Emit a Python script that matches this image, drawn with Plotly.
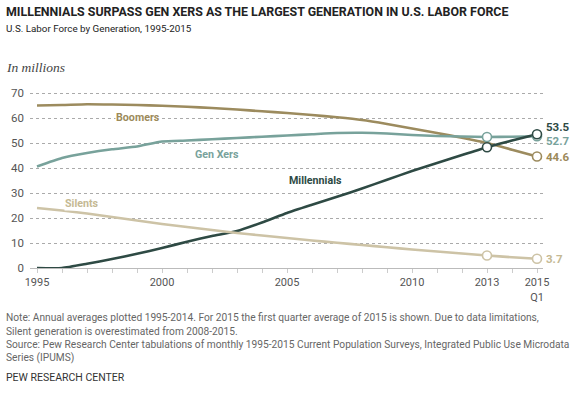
import plotly.graph_objects as go

years = list(range(1995, 2016))
boomers = [65.0, 65.2, 65.5, 65.4, 65.2, 64.9, 64.5, 64.0, 63.4, 62.7, 62.0, 61.2, 60.3, 59.2, 57.6, 55.8, 54.0, 52.1, 50.0, 47.3, 44.6]
gen_xers = [40.6, 44.0, 46.0, 47.5, 48.6, 50.6, 51.0, 51.5, 52.0, 52.5, 53.0, 53.5, 54.0, 54.1, 53.8, 53.2, 52.8, 52.6, 52.4, 52.5, 52.7]
millennials = [0.0, 0.0, 1.7, 3.6, 5.7, 8.0, 10.5, 12.8, 14.8, 18.2, 22.0, 25.3, 28.5, 31.8, 35.3, 38.8, 42.0, 45.2, 48.3, 51.0, 53.5]
silents = [24.0, 23.0, 21.8, 20.4, 19.0, 17.6, 16.4, 15.2, 14.0, 13.0, 12.0, 11.0, 10.1, 9.2, 8.3, 7.4, 6.6, 5.8, 5.0, 4.3, 3.7]

series_names = ["Boomers", "Gen Xers", "Millennials", "Silents"]
series_values = [boomers, gen_xers, millennials, silents]
colors = ["#9c8b5e", "#78a29b", "#2e4a44", "#cdc3a6"]
label_colors = ["#9c8a5a", "#78a29b", "#2e4a44", "#c5b993"]
marker_years = [[2015], [2013, 2015], [2013, 2015], [2013, 2015]]
end_labels = ["44.6", "52.7", "53.5", "3.7"]

xtick_vals = years
xtick_text = ["1995", "", "", "", "", "2000", "", "", "", "", "2005", "", "", "", "", "2010", "", "", "2013", "", "2015<br>Q1"]
ytick_vals = [0, 10, 20, 30, 40, 50, 60, 70]

fig = go.Figure()
for name, vals, col in zip(series_names, series_values, colors):
    fig.add_trace(go.Scatter(x=years, y=vals, mode="lines", name=name,
                             line=dict(color=col, width=2.6, shape="spline", smoothing=0.5),
                             hoverinfo="skip", showlegend=False))
for name, vals, col, myrs in zip(series_names, series_values, colors, marker_years):
    fig.add_trace(go.Scatter(x=myrs, y=[vals[years.index(yy)] for yy in myrs], mode="markers",
                             marker=dict(size=9, color="white", line=dict(color=col, width=1.6)),
                             cliponaxis=False, showlegend=False, hoverinfo="skip"))

# series labels
lab_font = "Roboto"
label_pos = [(1999.04, 60.3), (2002.19, 45.3), (2006.12, 35.0), (1996.8, 25.7)]
for name, (lx, ly), lc in zip(series_names, label_pos, label_colors):
    fig.add_annotation(x=lx, y=ly, text="<b>" + name + "</b>", showarrow=False, bgcolor="white",
                       font=dict(family=lab_font, size=10.7, color=lc), borderpad=0)

# end value labels
end_y = [44.6, 51.0, 56.6, 3.7]
for lbl, ey, lc in zip(end_labels, end_y, label_colors):
    fig.add_annotation(x=2015, y=ey, text="<b>" + lbl + "</b>", showarrow=False, xanchor="left",
                       xshift=7, font=dict(family=lab_font, size=11.5, color=lc))

note_font = dict(family="Roboto, sans-serif", size=10.2, color="#666666")
W, H = 576, 396
L, R, T, B = 30, 33, 88, 128
layout_texts = [
    (4, 11, "<b>MILLENNIALS SURPASS GEN XERS AS THE LARGEST GENERATION IN U.S. LABOR FORCE</b>",
     dict(family="Roboto, sans-serif", size=12.4, color="#222222")),
    (4, 28, "U.S. Labor Force by Generation, 1995-2015",
     dict(family="Roboto, sans-serif", size=9.8, color="#222222")),
    (4, 67, "<i>In millions</i>", dict(family="Liberation Serif, serif", size=13.5, color="#444444")),
    (4, 317, "Note: Annual averages plotted 1995-2014. For 2015 the first quarter average of 2015 is shown. Due to data limitations,", note_font),
    (4, 331, "Silent generation is overestimated from 2008-2015.", note_font),
    (4, 344, "Source: Pew Research Center tabulations of monthly 1995-2015 Current Population Surveys, Integrated Public Use Microdata", note_font),
    (4, 358, "Series (IPUMS)", note_font),
    (4, 377, "PEW RESEARCH CENTER", dict(family="Roboto, sans-serif", size=10.5, color="#333333")),
]
for px, py, txt, fnt in layout_texts:
    fig.add_annotation(xref="paper", yref="paper", x=(px - L) / (W - L - R), y=(H - B - py) / (H - B - T),
                       text=txt, showarrow=False, xanchor="left", yanchor="middle", font=fnt, align="left")

fig.update_layout(
    width=W, height=H, margin=dict(l=L, r=R, t=T, b=B),
    paper_bgcolor="white", plot_bgcolor="white",
    xaxis=dict(range=[1994.72, 2015.24], tickvals=xtick_vals, ticktext=xtick_text, ticks="outside",
               ticklen=4, tickcolor="#cccccc", showgrid=False, showline=True, linecolor="#bbbbbb",
               linewidth=1, zeroline=False, tickfont=dict(family="Roboto", size=11, color="#555555")),
    yaxis=dict(range=[0, 72], tickvals=ytick_vals, showgrid=True, gridcolor="#aaaaaa", griddash="dot",
               gridwidth=1, zeroline=False, showline=False, ticks="", ticklabelstandoff=5,
               tickfont=dict(family="Roboto", size=11.5, color="#555555")),
)
fig.write_html("out.html", config={"displayModeBar": False},
               post_script="document.body.style.margin='0px';")
